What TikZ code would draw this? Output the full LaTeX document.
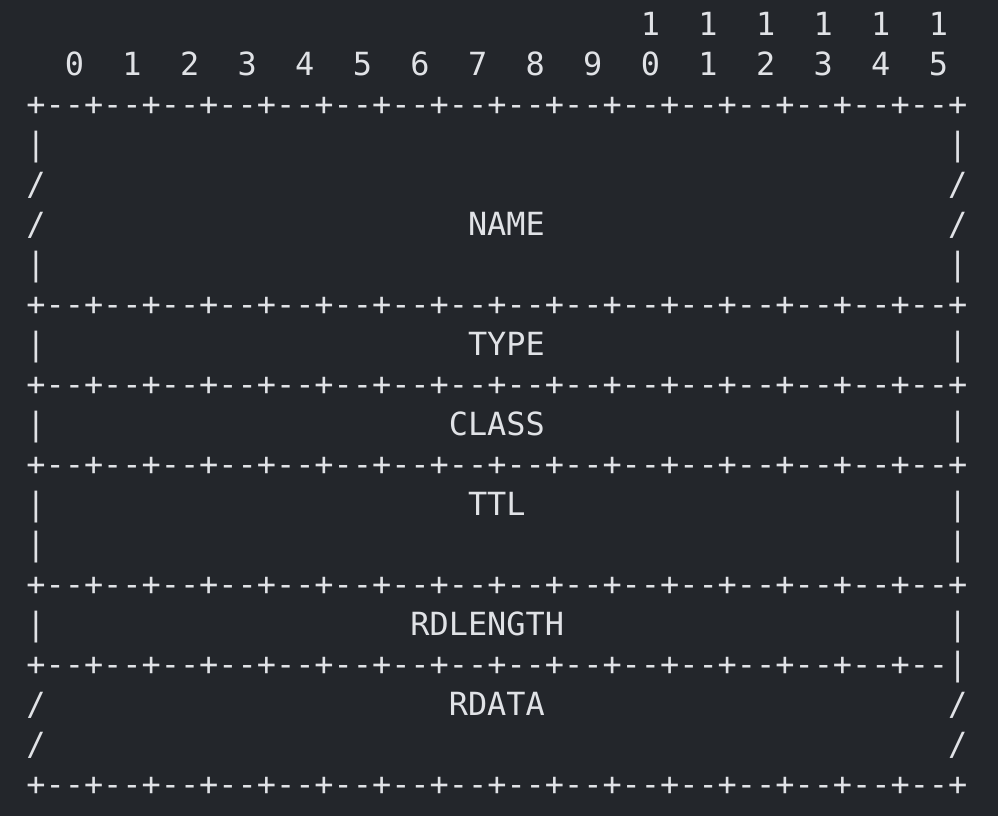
\documentclass[tikz,border=0pt]{standalone}
\usepackage{fontspec}
\setmonofont{DejaVu Sans Mono}

\definecolor{termbg}{RGB}{35,38,43}
\definecolor{termfg}{RGB}{224,226,230}

\tikzset{
  ascii/.style={anchor=base west, inner sep=0pt, outer sep=0pt, text=termfg,
    font=\ttfamily\fontsize{15.95}{20}\selectfont},
}
\newcommand{\rrline}{+--+--+--+--+--+--+--+--+--+--+--+--+--+--+--+--+}
\newcommand{\rrlineend}{+--+--+--+--+--+--+--+--+--+--+--+--+--+--+--+--|}

\begin{document}
\begin{tikzpicture}[x=9.6pt,y=-20pt]
      \fill[termbg] (-1.375,-0.875) rectangle (50.604,19.525);
      \useasboundingbox (-1.375,-0.875) rectangle (50.604,19.525);
      % bit numbers
      \foreach \k in {10,...,15}
        \draw (2+3*\k,0) node[ascii]{1};
      \foreach \k in {0,...,15}{
        \pgfmathtruncatemacro{\d}{mod(\k,10)}
        \draw (2+3*\k,1) node[ascii]{\d};
      }
      % separators
      \foreach \r in {2,7,9,11,14,19}
        \draw (0,\r) node[ascii]{\rrline};
      \draw (0,16) node[ascii]{\rrlineend};
      % side walls
      \foreach \r in {3,6,8,10,12,13,15}{
        \draw (0,\r) node[ascii]{|};
        \draw (48,\r) node[ascii]{|};
      }
      \foreach \r in {4,5,17,18}{
        \draw (0,\r) node[ascii]{/};
        \draw (48,\r) node[ascii]{/};
      }
      % field names
      \draw (23,5) node[ascii] (name) {NAME};
      \draw (23,8) node[ascii] (type) {TYPE};
      \draw (22,10) node[ascii] (class) {CLASS};
      \draw (23,12) node[ascii] (ttl) {TTL};
      \draw (20,15) node[ascii] (rdlength) {RDLENGTH};
      \draw (22,17) node[ascii] (rdata) {RDATA};
    \end{tikzpicture}
\end{document}
